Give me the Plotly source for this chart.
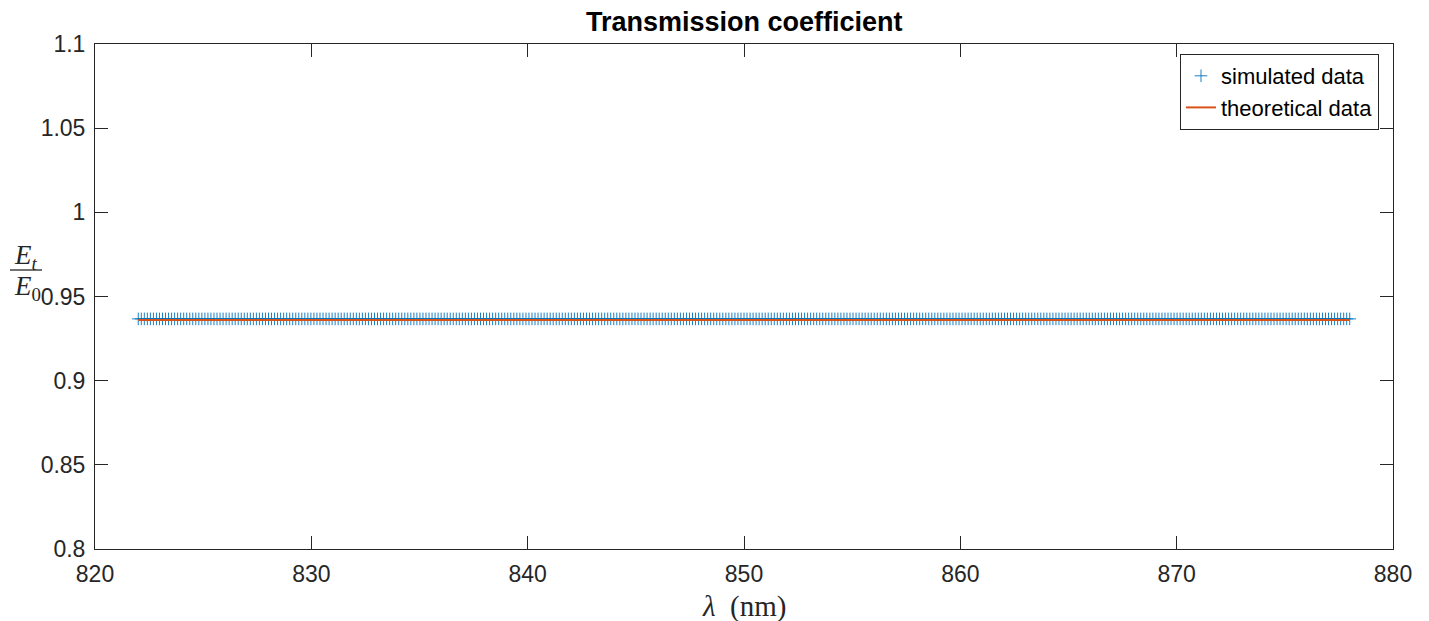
import numpy as np
import plotly.graph_objects as go

# ---- data ----
wavelength_start_nm = 822.0
wavelength_end_nm = 878.0
n_samples = 401
simulated_value = 0.9367     # Et/E0 (constant across the band)
theoretical_value = 0.9361

wavelength_nm = np.linspace(wavelength_start_nm, wavelength_end_nm, n_samples)
simulated = np.full(n_samples, simulated_value)
theoretical = np.full(n_samples, theoretical_value)

x_ticks = [820, 830, 840, 850, 860, 870, 880]
y_ticks = [0.8, 0.85, 0.9, 0.95, 1, 1.05, 1.1]
y_tick_labels = ["0.8", "0.85", "0.9", "0.95", "1", "1.05", "1.1"]

# ---- layout geometry (pixels) ----
W, H = 1429, 621
L, R, T, B = 95, 1393, 44, 549
pw, ph = R - L, B - T


def px(x):
    return (x - L) / pw


def py(y):
    return (B - y) / ph


axis_col = "#262626"
font_fam = "Liberation Sans, Arial, Helvetica, sans-serif"
serif = "Liberation Serif, DejaVu Serif, serif"

fig = go.Figure()
fig.add_trace(go.Scatter(
    x=wavelength_nm, y=simulated, mode="markers", name="simulated data",
    marker=dict(symbol="cross-thin", size=9, color="#0072BD",
                line=dict(width=0.9, color="#0072BD")),
))
fig.add_trace(go.Scatter(
    x=wavelength_nm, y=theoretical, mode="lines", name="theoretical data",
    line=dict(color="#D95319", width=2),
))

axis_common = dict(
    showline=True, linecolor=axis_col, linewidth=1, mirror="ticks",
    ticks="inside", ticklen=13, tickcolor=axis_col, tickwidth=1,
    showgrid=False, zeroline=False,
    tickfont=dict(family=font_fam, size=23, color=axis_col),
)

fig.update_layout(
    width=W, height=H,
    margin=dict(l=L, r=W - R, t=T, b=H - B),
    paper_bgcolor="white", plot_bgcolor="white",
    showlegend=True,
    legend=dict(
        x=px(1379), y=py(54), xanchor="right", yanchor="top",
        bgcolor="white", bordercolor=axis_col, borderwidth=1,
        font=dict(family=font_fam, size=22, color="black"),
        traceorder="normal",
    ),
    xaxis=dict(range=[820, 880], tickvals=x_ticks, ticklabelstandoff=4,
               **axis_common),
    yaxis=dict(range=[0.8, 1.1], tickvals=y_ticks, ticktext=y_tick_labels,
               ticklabelstandoff=4, **axis_common),
    annotations=[
        dict(text="<b>Transmission coefficient</b>", xref="paper", yref="paper",
             x=0.5, y=py(22), xanchor="center", yanchor="middle",
             showarrow=False, font=dict(family=font_fam, size=27, color="black")),
        dict(text="<i>λ</i>  (nm)", xref="paper", yref="paper",
             x=0.5, y=py(606), xanchor="center", yanchor="middle",
             showarrow=False, font=dict(family=serif, size=29, color=axis_col)),
        dict(text="<i>E</i><sub><i>t</i></sub>", xref="paper", yref="paper",
             x=px(26), y=py(257), xanchor="center", yanchor="middle",
             showarrow=False, font=dict(family=serif, size=27, color=axis_col)),
        dict(text="<i>E</i><sub>0</sub>", xref="paper", yref="paper",
             x=px(27), y=py(288), xanchor="center", yanchor="middle",
             showarrow=False, font=dict(family=serif, size=27, color=axis_col)),
    ],
    shapes=[
        dict(type="line", xref="paper", yref="paper",
             x0=px(10), x1=px(42), y0=py(270), y1=py(270),
             line=dict(color=axis_col, width=1.3)),
    ],
)

fig.write_html("out.html")
